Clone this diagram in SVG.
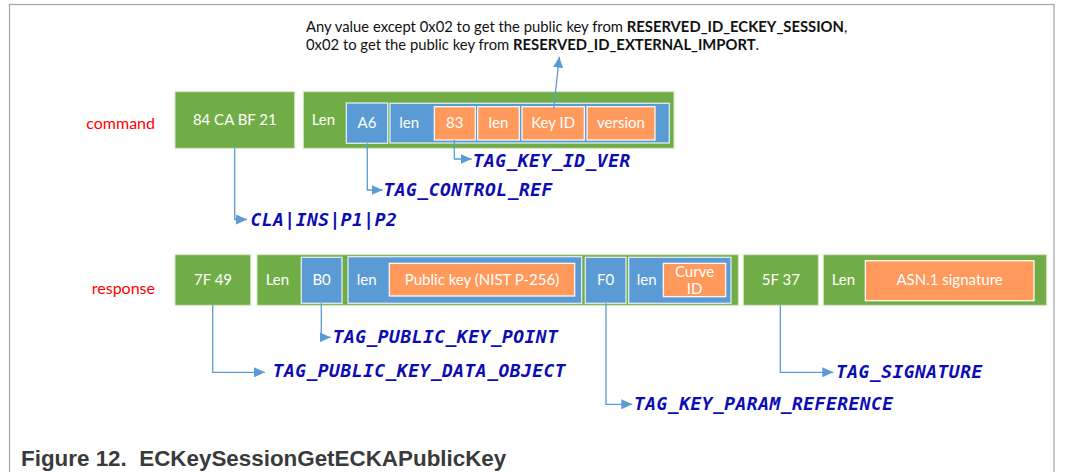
<svg xmlns="http://www.w3.org/2000/svg" width="1066" height="472" viewBox="0 0 1066 472">
<defs>
<style>
.frame{fill:#fff;stroke:#a6a6a6;stroke-width:1.2}
.g{fill:#70AD47;stroke:#d6e9c9;stroke-width:1}
.b{fill:#5B9BD5;stroke:#e8f0fa;stroke-width:1.2}
.o{fill:#FF9A5C;stroke:#ffffff;stroke-width:1.2}
.t{font-family:Lato,"Open Sans",sans-serif;font-size:15px;fill:#fff}
.c{text-anchor:middle}
.lbl{font-family:Lato,"Open Sans",sans-serif;font-size:16px;fill:#FF0000;text-anchor:end}
.note{font-family:Lato,"Open Sans",sans-serif;font-size:14.8px;fill:#111}
.tag{font-family:"DejaVu Sans Mono",monospace;font-weight:bold;font-style:italic;font-size:18px;letter-spacing:0.45px;fill:#0C0CB4}
.con{fill:none;stroke:#5B9BD5;stroke-width:1.3}
.cap{font-family:"Liberation Sans",Arial,sans-serif;font-weight:bold;font-size:22.4px;fill:#3a3a3a}
</style>
<marker id="arr" markerUnits="userSpaceOnUse" markerWidth="12" markerHeight="10" refX="11" refY="5" orient="auto">
<path d="M0,0 L11,5 L0,10 z" fill="#5B9BD5"/>
</marker>
</defs>
<rect class="frame" x="9.5" y="4.5" width="1044.5" height="490"/>

<g id="annotation">
<text class="note" x="306" y="32">Any value except 0x02 to get the public key from <tspan font-weight="bold">RESERVED_ID_ECKEY_SESSION</tspan>,</text>
<text class="note" x="306" y="49.5">0x02 to get the public key from <tspan font-weight="bold">RESERVED_ID_EXTERNAL_IMPORT</tspan>.</text>
</g>

<g id="label-command"><text class="lbl" x="155" y="129">command</text></g>
<g id="label-response"><text class="lbl" x="155" y="294">response</text></g>

<g id="cmd-header">
<rect class="g" x="175" y="91.7" width="119.7" height="56.6"/>
<text class="t c" x="234.8" y="125">84 CA BF 21</text>
</g>
<g id="cmd-body">
<rect class="g" x="303.3" y="91.7" width="370.7" height="56.6"/>
<text class="t" x="311.7" y="125">Len</text>
</g>
<g id="cmd-a6">
<rect class="b" x="346.3" y="103" width="41.4" height="40.3"/>
<text class="t c" x="367" y="127.7">A6</text>
</g>
<g id="cmd-a6-len">
<rect class="b" x="390" y="103.3" width="279.3" height="39.7"/>
<text class="t" x="399.3" y="127.7">len</text>
</g>
<g id="cmd-83">
<rect class="o" x="434.3" y="106.7" width="41" height="33.3"/>
<text class="t c" x="454.8" y="128.3">83</text>
</g>
<g id="cmd-83-len">
<rect class="o" x="477.7" y="106.7" width="41.6" height="33.3"/>
<text class="t c" x="498.5" y="128.3">len</text>
</g>
<g id="cmd-keyid">
<rect class="o" x="522" y="106.7" width="62.3" height="33.3"/>
<text class="t c" x="553.2" y="128.3">Key ID</text>
</g>
<g id="cmd-version">
<rect class="o" x="587" y="106.7" width="68" height="33.3"/>
<text class="t c" x="621" y="128.3">version</text>
</g>

<g id="rsp-header">
<rect class="g" x="175" y="254.7" width="75.7" height="50.6"/>
<text class="t c" x="213" y="285">7F 49</text>
</g>
<g id="rsp-body">
<rect class="g" x="257" y="254.7" width="481.3" height="50.6"/>
<text class="t" x="265.7" y="285">Len</text>
</g>
<g id="rsp-b0">
<rect class="b" x="301.3" y="257.3" width="40.7" height="46"/>
<text class="t c" x="321.6" y="285">B0</text>
</g>
<g id="rsp-b0-len">
<rect class="b" x="348" y="256.7" width="233.7" height="46.6"/>
<text class="t" x="356.7" y="285">len</text>
</g>
<g id="rsp-pubkey">
<rect class="o" x="389.3" y="263.3" width="185.4" height="32.7"/>
<text class="t c" x="482" y="285">Public key (NIST P-256)</text>
</g>
<g id="rsp-f0">
<rect class="b" x="585.3" y="257.3" width="40.7" height="46"/>
<text class="t c" x="605.7" y="285">F0</text>
</g>
<g id="rsp-f0-len">
<rect class="b" x="628.7" y="257.3" width="102.3" height="46"/>
<text class="t" x="636.7" y="285">len</text>
</g>
<g id="rsp-curveid">
<rect class="o" x="663.3" y="263.3" width="62.4" height="33.4"/>
<text class="t c" x="694.5" y="276.7">Curve</text>
<text class="t c" x="694.5" y="294">ID</text>
</g>
<g id="rsp-sig-header">
<rect class="g" x="743.3" y="254.7" width="75" height="50.6"/>
<text class="t c" x="780.8" y="285">5F 37</text>
</g>
<g id="rsp-sig-body">
<rect class="g" x="823.3" y="254.7" width="223.4" height="50.6"/>
<text class="t" x="831.7" y="285">Len</text>
</g>
<g id="rsp-asn1">
<rect class="o" x="865.3" y="260.7" width="168.7" height="40"/>
<text class="t c" x="949.6" y="285">ASN.1 signature</text>
</g>

<g id="connectors">
<polyline class="con" points="234.7,148.3 234.7,219.5 247,219.5" marker-end="url(#arr)"/>
<polyline class="con" points="367.3,143.3 367.3,190 382.7,190" marker-end="url(#arr)"/>
<polyline class="con" points="454.3,140 454.3,159 471.7,159" marker-end="url(#arr)"/>
<line class="con" x1="553.7" y1="108.7" x2="559.3" y2="56.7" marker-end="url(#arr)"/>
<polyline class="con" points="212.7,305.3 212.7,372.3 265,372.3" marker-end="url(#arr)"/>
<polyline class="con" points="321.3,303.3 321.3,337.3 330.7,337.3" marker-end="url(#arr)"/>
<polyline class="con" points="606,303.3 606,404.3 632.3,404.3" marker-end="url(#arr)"/>
<polyline class="con" points="780.3,305.3 780.3,372.3 833.3,372.3" marker-end="url(#arr)"/>
</g>

<g id="tags">
<text class="tag" x="250.5" y="225.7">CLA|INS|P1|P2</text>
<text class="tag" x="383.5" y="195.5">TAG_CONTROL_REF</text>
<text class="tag" x="472.7" y="166.5">TAG_KEY_ID_VER</text>
<text class="tag" x="272.7" y="376.5">TAG_PUBLIC_KEY_DATA_OBJECT</text>
<text class="tag" x="332.7" y="343">TAG_PUBLIC_KEY_POINT</text>
<text class="tag" x="634" y="410">TAG_KEY_PARAM_REFERENCE</text>
<text class="tag" x="836" y="378">TAG_SIGNATURE</text>
</g>

<g id="caption">
<text class="cap" x="21" y="466" xml:space="preserve">Figure 12.  ECKeySessionGetECKAPublicKey</text>
</g>
</svg>
